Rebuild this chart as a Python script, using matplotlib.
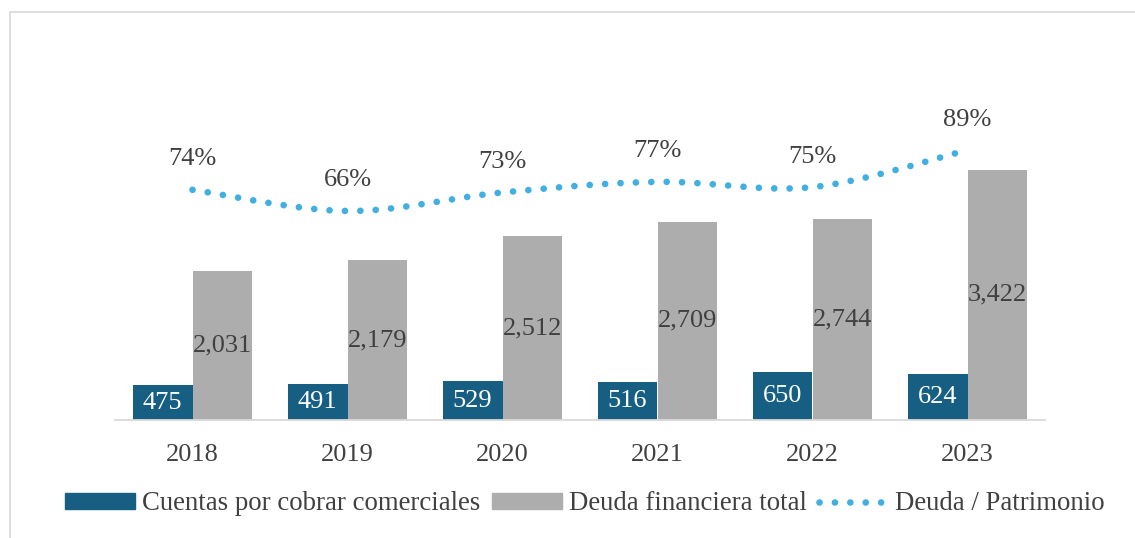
import numpy as np
import matplotlib
matplotlib.use("Agg")
import matplotlib.pyplot as plt
from matplotlib.lines import Line2D
from matplotlib.patches import Patch, Rectangle

years = ["2018", "2019", "2020", "2021", "2022", "2023"]
cuentas = [475, 491, 529, 516, 650, 624]
deuda = [2031, 2179, 2512, 2709, 2744, 3422]
ratio = [74, 66, 73, 77, 75, 89]

DARK = "#175F82"
GRAY = "#ADADAD"
BLUE = "#41AFE2"
TXT = "#404040"
FS = 19

plt.rcParams['font.family'] = ['Liberation Serif', 'DejaVu Serif']

W, H = 1135, 538
fig = plt.figure(figsize=(W / 100, H / 100), dpi=100)

# axes: x from 115 to 1045 px, y from 420 (bottom) to 60 (top)
ax = fig.add_axes([115 / W, 1 - 420 / H, 930 / W, 360 / H])
ax2 = ax.twinx()

x = np.arange(len(years))
bw = 0.387
b1 = ax.bar(x - bw / 2, cuentas, bw, color=DARK, zorder=2)
b2 = ax.bar(x + bw / 2, deuda, bw, color=GRAY, zorder=2)

ax.set_xlim(-0.5, len(years) - 0.5)
ax.set_ylim(0, 4918)
ax2.set_ylim(-12.9, 123)

for rect, v in zip(b1, cuentas):
    ax.text(rect.get_x() + rect.get_width() / 2, v / 2, f"{v:,}",
            ha="center", va="center", color="white", fontsize=FS)
for rect, v in zip(b2, deuda):
    ax.text(rect.get_x() + rect.get_width() / 2, v / 2, f"{v:,}",
            ha="center", va="center", color=TXT, fontsize=FS)

# smoothed line (Catmull-Rom rendering through the data points)
px = x.astype(float)
py = np.array(ratio, dtype=float)
P = np.column_stack([px, py])
Pext = np.vstack([P[0], P, P[-1]])
curve = []
for i in range(1, len(Pext) - 2):
    p0, p1, p2, p3 = Pext[i - 1], Pext[i], Pext[i + 1], Pext[i + 2]
    t = np.linspace(0, 1, 40)[:, None]
    c1 = p1 + (p2 - p0) / 6
    c2 = p2 - (p3 - p1) / 6
    seg = ((1 - t) ** 3) * p1 + 3 * ((1 - t) ** 2) * t * c1 + 3 * (1 - t) * t ** 2 * c2 + t ** 3 * p2
    curve.append(seg if i == 1 else seg[1:])
curve = np.vstack(curve)
ax2.plot(curve[:, 0], curve[:, 1], color=BLUE, lw=4.8,
         linestyle=(0, (0.01, 2.3)), dash_capstyle="round", zorder=3)

for xi, v in zip(px, ratio):
    ax2.annotate(f"{v}%", (xi, v), xytext=(0, 22), textcoords="offset points",
                 ha="center", va="center", color=TXT, fontsize=FS)

for a in (ax, ax2):
    for s in a.spines.values():
        s.set_visible(False)
    a.set_yticks([])
ax.spines["bottom"].set_visible(True)
ax.spines["bottom"].set_color("#D9D9D9")
ax.spines["bottom"].set_linewidth(1.3)
ax.set_xticks(x)
ax.set_xticklabels(years, fontsize=FS, color=TXT)
ax.tick_params(axis="x", length=0, pad=17)

handles = [Patch(facecolor=DARK, edgecolor=DARK),
           Patch(facecolor=GRAY, edgecolor=GRAY),
           Line2D([0], [0], color=BLUE, lw=4.8, linestyle=(0, (0.01, 2.3)),
                  dash_capstyle="round")]
labels = ["Cuentas por cobrar comerciales", "Deuda financiera total", "Deuda / Patrimonio"]
leg = fig.legend(handles, labels, loc="center", bbox_to_anchor=(585 / W, 1 - 504 / H),
                 ncol=3, frameon=False, fontsize=19.3, handlelength=2.6,
                 handleheight=0.5, handletextpad=0.25, columnspacing=0.45,
                 borderpad=0, borderaxespad=0)
for t in leg.get_texts():
    t.set_color(TXT)

border = Rectangle((10 / W, -0.1), 1.2, (H - 12) / H + 0.1, transform=fig.transFigure,
                   fill=False, edgecolor="#D9D9D9", lw=1.2, clip_on=False)
fig.patches.append(border)

fig.savefig("out.png", dpi=100)
